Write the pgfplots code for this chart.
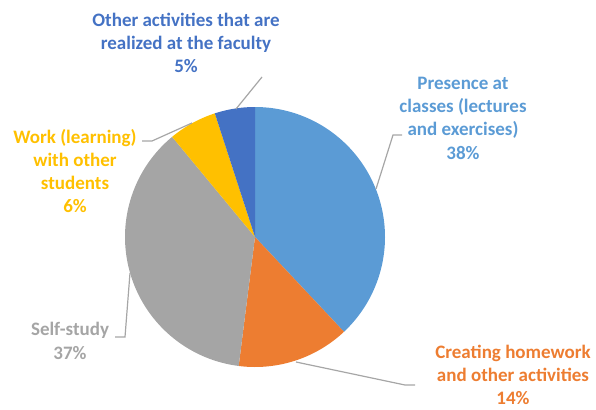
\documentclass[border=0pt]{standalone}
\usepackage{pgfplots}
\pgfplotsset{compat=1.18}
\usepackage{fontspec}
\setmainfont{Carlito}
\definecolor{cA}{HTML}{5B9BD5}
\definecolor{cB}{HTML}{ED7D31}
\definecolor{cC}{HTML}{A5A5A5}
\definecolor{cD}{HTML}{FFC000}
\definecolor{cE}{HTML}{4472C4}
\definecolor{lead}{HTML}{A6A6A6}
% shares (percent), clockwise from 12 o'clock
\def\vA{38}\def\vB{14}\def\vC{37}\def\vD{6}\def\vE{5}
\pgfmathsetmacro{\aA}{90}
\pgfmathsetmacro{\aB}{\aA-3.6*\vA}
\pgfmathsetmacro{\aC}{\aB-3.6*\vB}
\pgfmathsetmacro{\aD}{\aC-3.6*\vC}
\pgfmathsetmacro{\aE}{\aD-3.6*\vD}
\pgfmathsetmacro{\aF}{\aE-3.6*\vE}
\def\cx{255}\def\cy{237}\def\R{130}
\begin{document}
\begin{tikzpicture}
\begin{axis}[
  width=596pt, height=409pt, scale only axis,
  xmin=0, xmax=596, ymin=0, ymax=409, y dir=reverse,
  hide axis, clip=false,
  every axis plot/.append style={draw=none, samples=80},
]
\path (axis cs:0,0) rectangle (axis cs:596,409);
\addplot[fill=cA, domain=\aB:\aA] ({\cx+\R*cos(x)},{\cy-\R*sin(x)}) -- (axis cs:\cx,\cy) -- cycle;
\addplot[fill=cB, domain=\aC:\aB] ({\cx+\R*cos(x)},{\cy-\R*sin(x)}) -- (axis cs:\cx,\cy) -- cycle;
\addplot[fill=cC, domain=\aD:\aC] ({\cx+\R*cos(x)},{\cy-\R*sin(x)}) -- (axis cs:\cx,\cy) -- cycle;
\addplot[fill=cD, domain=\aE:\aD] ({\cx+\R*cos(x)},{\cy-\R*sin(x)}) -- (axis cs:\cx,\cy) -- cycle;
\addplot[fill=cE, domain=\aF:\aE] ({\cx+\R*cos(x)},{\cy-\R*sin(x)}) -- (axis cs:\cx,\cy) -- cycle;
% leader lines
\draw[lead, line width=1.2pt] (axis cs:262,77) -- (axis cs:236,109);
\draw[lead, line width=1.2pt] (axis cs:376,189) -- (axis cs:393,135) -- (axis cs:402,135);
\draw[lead, line width=1.2pt] (axis cs:192,123) -- (axis cs:152,141) -- (axis cs:142,141);
\draw[lead, line width=1.2pt] (axis cs:130,273) -- (axis cs:125,337) -- (axis cs:115,337);
\draw[lead, line width=1.2pt] (axis cs:296,362) -- (axis cs:405,385) -- (axis cs:415,385);
% labels
\tikzset{lbl/.style={align=center, inner sep=0pt, font=\fontsize{19}{23.3}\selectfont\bfseries}}
\node[lbl, text=cE] at (axis cs:186,43) {Other activities that are\\realized at the faculty\\\vE\%};
\node[lbl, text=cA] at (axis cs:463,118) {Presence at\\classes (lectures\\and exercises)\\\vA\%};
\node[lbl, text=cD] at (axis cs:75,171) {Work (learning)\\with other\\students\\\vD\%};
\node[lbl, text=cC] at (axis cs:70,341) {Self-study\\\vC\%};
\node[lbl, text=cB] at (axis cs:513,375) {Creating homework\\and other activities\\\vB\%};
\end{axis}
\end{tikzpicture}
\end{document}
